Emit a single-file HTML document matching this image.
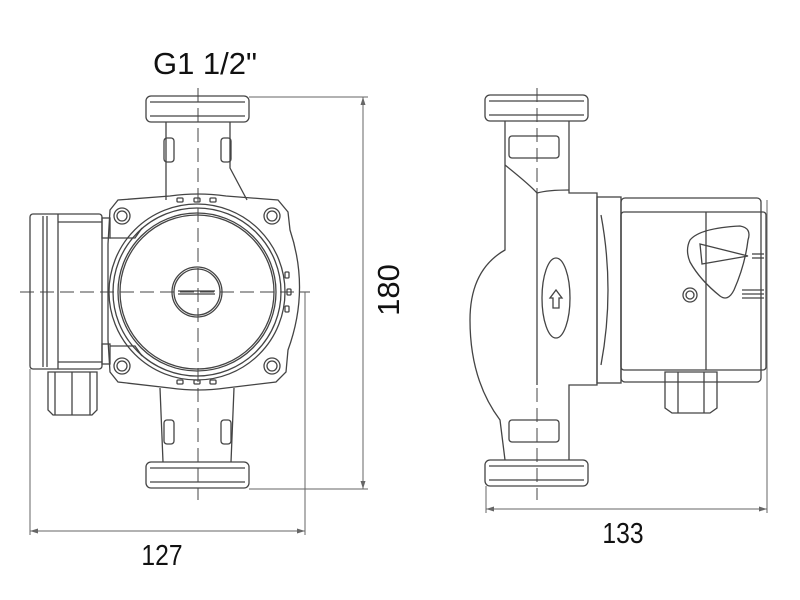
<!DOCTYPE html>
<html><head><style>html,body{margin:0;padding:0;background:#fff;}svg{display:block}</style></head>
<body>
<svg width="800" height="600" viewBox="0 0 800 600" xmlns="http://www.w3.org/2000/svg">
<g fill="none" stroke="#444" stroke-width="1.3">
<!-- LEFT PUMP -->
<rect x="146" y="96" width="103" height="26" rx="5"/>
<line x1="150" y1="102" x2="245" y2="102"/>
<line x1="150" y1="116" x2="245" y2="116"/>
<path d="M166 122 L166 200 M230 122 L230 168 L247 200"/>
<rect x="164" y="138" width="10" height="24" rx="3"/>
<rect x="221" y="138" width="10" height="24" rx="3"/>
<path d="M110 210 L118 200 L170 196 Q198 192 226 196 L278 200 L288 212 L290 230 Q310 290 288 350 L286 372 L276 382 L226 388 Q198 392 170 388 L118 382 L110 372 L108 340 L108 244 Z"/>
<path d="M110 238 L135 238 L142 228 M110 346 L135 346 L142 356"/>
<circle cx="197" cy="292" r="88"/>
<circle cx="197" cy="292" r="84"/>
<circle cx="197" cy="292" r="79"/>
<circle cx="197" cy="292" r="77"/>
<circle cx="197" cy="292" r="25"/>
<circle cx="197" cy="292" r="23"/>
<line x1="178" y1="291" x2="215" y2="291"/><line x1="178" y1="294" x2="215" y2="294"/>
<circle cx="122" cy="216" r="8"/><circle cx="122" cy="216" r="5"/>
<circle cx="272" cy="216" r="8"/><circle cx="272" cy="216" r="5"/>
<circle cx="122" cy="366" r="8"/><circle cx="122" cy="366" r="5"/>
<circle cx="272" cy="366" r="8"/><circle cx="272" cy="366" r="5"/>
<rect x="177" y="198" width="6" height="4" rx="1"/><rect x="194" y="198" width="6" height="4" rx="1"/><rect x="210" y="198" width="6" height="4" rx="1"/>
<rect x="177" y="380" width="6" height="4" rx="1"/><rect x="194" y="380" width="6" height="4" rx="1"/><rect x="210" y="380" width="6" height="4" rx="1"/>
<rect x="285" y="272" width="4" height="6" rx="1"/><rect x="287" y="289" width="4" height="6" rx="1"/><rect x="285" y="306" width="4" height="6" rx="1"/>
<rect x="30" y="214" width="72" height="155" rx="3"/>
<line x1="43" y1="216" x2="43" y2="367"/><line x1="47" y1="216" x2="47" y2="367"/>
<line x1="58" y1="214" x2="58" y2="369"/>
<line x1="58" y1="222" x2="102" y2="222"/><line x1="58" y1="362" x2="102" y2="362"/>
<rect x="102" y="218" width="8" height="20"/><rect x="102" y="344" width="8" height="20"/>
<path d="M48 372 L97 372 L97 410 L92 415 L53 415 L48 410 Z"/>
<line x1="72" y1="372" x2="72" y2="415"/><line x1="55" y1="372" x2="55" y2="415"/><line x1="90" y1="372" x2="90" y2="415"/>
<path d="M160 388 L163 462 M234 388 L231 462"/>
<rect x="164" y="420" width="10" height="24" rx="3"/>
<rect x="221" y="420" width="10" height="24" rx="3"/>
<rect x="146" y="462" width="103" height="26" rx="5"/>
<line x1="150" y1="468" x2="245" y2="468"/><line x1="150" y1="482" x2="245" y2="482"/>

<!-- RIGHT PUMP -->
<rect x="485" y="95" width="103" height="26" rx="5"/>
<line x1="489" y1="101" x2="584" y2="101"/><line x1="489" y1="115" x2="584" y2="115"/>
<path d="M505 121 L505 250 Q470 270 470 320 Q470 380 500 420 L505 460 M569 121 L569 193 L597 193 L597 385 L569 385 L569 460"/>
<path d="M537 193 L537 385"/>
<path d="M505 165 Q530 185 537 193 Q548 190 569 190"/>
<rect x="509" y="136" width="50" height="22" rx="3"/>
<rect x="509" y="420" width="50" height="22" rx="3"/>
<ellipse cx="556" cy="298" rx="14" ry="40"/>
<path d="M553 308 L553 298 L550 298 L556 290 L562 298 L559 298 L559 308 Z"/>
<rect x="485" y="460" width="103" height="26" rx="5"/>
<line x1="489" y1="466" x2="584" y2="466"/><line x1="489" y1="480" x2="584" y2="480"/>
<rect x="597" y="197" width="24" height="186"/>
<path d="M601 215 Q615 290 601 365"/>
<rect x="621" y="198" width="140" height="184" rx="4"/>
<rect x="621" y="212" width="145" height="158" rx="3"/>
<line x1="706" y1="212" x2="706" y2="370"/>
<path d="M690 240 Q700 228 740 226 Q752 228 748 240 Q745 265 734 290 Q728 302 720 296 Q700 280 690 262 Q685 250 690 240 Z"/>
<path d="M700 244 L748 256 L702 264 Z"/>
<circle cx="690" cy="295" r="7"/><circle cx="690" cy="295" r="4"/>
<line x1="742" y1="290" x2="764" y2="290"/><line x1="742" y1="294" x2="764" y2="294"/><line x1="742" y1="298" x2="764" y2="298"/>
<line x1="752" y1="254" x2="764" y2="254"/><line x1="752" y1="258" x2="764" y2="258"/>
<path d="M665 372 L717 372 L717 408 L710 413 L672 413 L665 408 Z"/>
<line x1="678" y1="372" x2="678" y2="413"/><line x1="704" y1="372" x2="704" y2="413"/>
</g>

<g stroke="#444" stroke-width="1" stroke-dasharray="14,6" fill="none">
<line x1="198" y1="88" x2="198" y2="500"/>
<line x1="20" y1="292" x2="310" y2="292"/>
<line x1="537" y1="88" x2="537" y2="500"/>
</g>

<g stroke="#666" stroke-width="1" fill="none">
<line x1="249" y1="97" x2="368" y2="97"/>
<line x1="249" y1="489" x2="368" y2="489"/>
<line x1="363" y1="97" x2="363" y2="489"/>
<line x1="30" y1="369" x2="30" y2="535"/>
<line x1="305" y1="292" x2="305" y2="535"/>
<line x1="30" y1="531" x2="305" y2="531"/>
<line x1="486" y1="486" x2="486" y2="513"/>
<line x1="767" y1="200" x2="767" y2="513"/>
<line x1="486" y1="509" x2="767" y2="509"/>
</g>
<g fill="#666">
<path d="M363 97 L360.5 105 L365.5 105 Z"/><path d="M363 489 L360.5 481 L365.5 481 Z"/>
<path d="M30 531 L38 528.5 L38 533.5 Z"/><path d="M305 531 L297 528.5 L297 533.5 Z"/>
<path d="M486 509 L494 506.5 L494 511.5 Z"/><path d="M767 509 L759 506.5 L759 511.5 Z"/>
</g>

<g font-family="Liberation Sans, sans-serif" fill="#111">
<text x="205" y="74" font-size="31" text-anchor="middle">G1 1/2"</text>
<text x="162" y="565" font-size="29" text-anchor="middle" transform="translate(162 0) scale(0.85 1) translate(-162 0)">127</text>
<text x="623" y="543" font-size="29" text-anchor="middle" transform="translate(623 0) scale(0.85 1) translate(-623 0)">133</text>
<text x="0" y="0" font-size="31" text-anchor="middle" transform="translate(399 290) rotate(-90)">180</text>
</g>
</svg>
</body></html>
